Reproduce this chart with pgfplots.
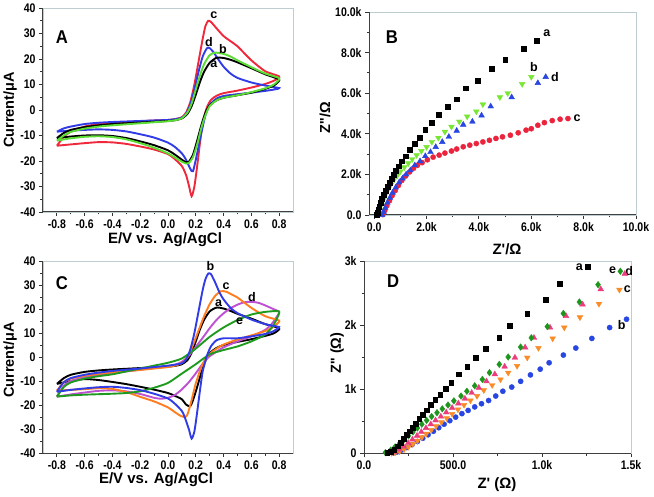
\documentclass[border=0pt]{standalone}
\usepackage{fontspec}
\setmainfont{Liberation Sans}
\newfontfamily\tfont{Liberation Sans}[FakeStretch=0.84]
\newfontfamily\pfont{Liberation Sans}[FakeStretch=0.9]
\usepackage{pgfplots}
\pgfplotsset{compat=1.18}

\definecolor{cvred}{RGB}{240,40,60}
\definecolor{cvblue}{RGB}{50,60,230}
\definecolor{cvgreen}{RGB}{90,220,50}
\definecolor{cvorange}{RGB}{255,125,30}
\definecolor{cvmag}{RGB}{190,80,210}
\definecolor{cvdgreen}{RGB}{30,155,30}
\definecolor{nqgreen}{RGB}{120,230,50}
\definecolor{nqred}{RGB}{235,35,60}
\definecolor{nqblue}{RGB}{40,70,225}
\definecolor{nqpink}{RGB}{235,60,125}
\definecolor{nqorange}{RGB}{250,140,40}
\definecolor{nqdgreen}{RGB}{30,150,30}
\definecolor{framegray}{RGB}{190,205,210}

\pgfplotsset{
  panel/.style={
    scale only axis, anchor=south west, clip=false, scaled ticks=false,
    axis line style={draw=framegray, line width=0.9pt},
    tick pos=left, tick align=outside,
    major tick length=4pt, minor tick length=2.5pt,
    tick style={black!80, line width=0.9pt},
    minor x tick num=1, minor y tick num=1,
    tick label style={font=\fontsize{12.5}{13}\selectfont\tfont\bfseries},
    xlabel style={font=\fontsize{15}{16}\selectfont\bfseries, anchor=center},
    ylabel style={font=\fontsize{14.5}{15}\selectfont\bfseries, anchor=center},
  },
  cv/.style={line width=1.9pt, smooth, tension=0.4, no markers},
  nq/.style={only marks, mark size=2.6pt},
}
\tikzset{
  lab/.style={font=\fontsize{12.5}{12}\selectfont\bfseries},
  plab/.style={font=\fontsize{18.5}{18}\selectfont\pfont\bfseries},
}
\newcommand\frameLB{\draw[black!75, line width=1pt] (rel axis cs:0,1) -- (rel axis cs:0,0) -- (rel axis cs:1,0);}

\begin{document}
\begin{tikzpicture}
\path[use as bounding box] (0pt,0pt) rectangle (654pt,496pt);

% ---------------- A ----------------
\begin{axis}[panel, at={(43pt,284pt)}, width=250pt, height=204pt,
  xmin=-0.9, xmax=0.9, ymin=-40, ymax=40,
  xtick={-0.8,-0.6,-0.4,-0.2,0,0.2,0.4,0.6,0.8},
  xticklabels={-0.8,-0.6,-0.4,-0.2,0.0,0.2,0.4,0.6,0.8},
  ytick={-40,-30,-20,-10,0,10,20,30,40},
  yticklabels={-40,-30,-20,-10,0,10,20,30,40},
  xlabel={E/V vs. Ag/AgCl}, ylabel={Current/μA},
  xlabel style={at={(axis description cs:0.488,-0.137)}},
  ylabel style={at={(axis description cs:-0.132,0.5)}},
]
\addplot[cv, cvred] coordinates {
(-0.8,-14) (-0.75,-10.5) (-0.7,-8.5) (-0.6,-6.5) (-0.5,-5.5) (-0.4,-5) (-0.3,-4.7) (-0.2,-4.4) (-0.1,-4.1) (0,-3.9) (0.05,-3.6) (0.1,-2.8) (0.13,-1) (0.16,3) (0.19,10) (0.22,19) (0.25,28) (0.27,33) (0.29,35) (0.31,34.5) (0.35,32) (0.4,29) (0.45,27) (0.5,25) (0.6,19.5) (0.7,15.2) (0.8,13.2)
(0.78,12) (0.75,11.2) (0.7,10.2) (0.6,8.8) (0.5,7.6) (0.4,6.6) (0.35,5.6) (0.31,4) (0.28,1) (0.25,-5) (0.23,-13) (0.21,-22) (0.19,-30) (0.17,-33.8) (0.15,-29.5) (0.13,-25.5) (0.1,-22) (0.05,-19.3) (0,-17.3) (-0.1,-15.5) (-0.2,-14.3) (-0.3,-13.3) (-0.4,-12.7) (-0.5,-12.6) (-0.6,-13) (-0.7,-13.5) (-0.8,-14)};
\addplot[cv, cvblue] coordinates {
(-0.8,-8.5) (-0.75,-7.2) (-0.7,-6.5) (-0.6,-5.5) (-0.5,-5) (-0.4,-4.7) (-0.3,-4.5) (-0.2,-4.3) (-0.1,-4.1) (0,-3.9) (0.05,-3.6) (0.1,-3) (0.13,-1.5) (0.16,2) (0.19,8) (0.22,15) (0.25,21) (0.28,24.2) (0.3,24.3) (0.33,22.5) (0.36,20) (0.4,17) (0.45,14.3) (0.5,12.6) (0.6,10.8) (0.7,9.6) (0.8,8.6)
(0.78,8.2) (0.75,7.9) (0.7,7.5) (0.6,6.8) (0.5,6.2) (0.4,5.5) (0.35,4.5) (0.3,2) (0.27,-2) (0.24,-9) (0.21,-17) (0.18,-24) (0.16,-23) (0.13,-19.5) (0.1,-17) (0.05,-14.5) (0,-12.8) (-0.1,-10.8) (-0.2,-9.5) (-0.3,-8.4) (-0.4,-7.8) (-0.5,-7.6) (-0.6,-7.8) (-0.7,-8.1) (-0.8,-8.5)};
\addplot[cv, black] coordinates {
(-0.8,-11) (-0.75,-9) (-0.7,-7.8) (-0.6,-6.7) (-0.5,-6) (-0.4,-5.5) (-0.3,-5.2) (-0.2,-4.9) (-0.1,-4.6) (0,-4.3) (0.05,-4) (0.1,-3.3) (0.14,-1.5) (0.17,1.5) (0.2,6) (0.23,11) (0.26,15) (0.3,18.5) (0.35,20.5) (0.4,20.4) (0.45,19.7) (0.5,18.7) (0.6,16.4) (0.7,14) (0.8,12)
(0.78,10.3) (0.75,9.3) (0.7,8.3) (0.6,6.8) (0.5,5.8) (0.4,4.8) (0.35,3.8) (0.3,1.8) (0.27,-1) (0.24,-6) (0.21,-12) (0.18,-17.5) (0.15,-20.3) (0.13,-20.5) (0.1,-19.5) (0.05,-17.5) (0,-15.8) (-0.1,-13.8) (-0.2,-12.3) (-0.3,-11) (-0.4,-10.2) (-0.5,-9.9) (-0.6,-10) (-0.7,-10.4) (-0.8,-11)};
\addplot[cv, cvgreen] coordinates {
(-0.8,-12) (-0.75,-10) (-0.7,-8.6) (-0.6,-7.3) (-0.5,-6.5) (-0.4,-6) (-0.3,-5.6) (-0.2,-5.2) (-0.1,-4.8) (0,-4.4) (0.05,-4) (0.1,-3.2) (0.14,-1) (0.17,2.5) (0.2,8) (0.23,13.5) (0.26,18) (0.3,21.5) (0.34,22.5) (0.4,22) (0.45,21) (0.5,19.5) (0.6,16.8) (0.7,14.3) (0.8,12.5)
(0.78,10.8) (0.75,9.6) (0.7,8.5) (0.6,7) (0.5,5.8) (0.4,4.8) (0.35,3.8) (0.3,1.5) (0.27,-2) (0.24,-7) (0.21,-13.5) (0.18,-18.5) (0.15,-20.8) (0.13,-21) (0.1,-20.3) (0.05,-18.6) (0,-17) (-0.1,-14.8) (-0.2,-13) (-0.3,-11.5) (-0.4,-10.6) (-0.5,-10.3) (-0.6,-10.5) (-0.7,-11.1) (-0.8,-12)};
\frameLB
\node[plab] at (rel axis cs:0.076,0.858) {A};
\node[lab] at (axis cs:0.33,37.2) {c};
\node[lab] at (axis cs:0.294,26.6) {d};
\node[lab] at (axis cs:0.396,23.9) {b};
\node[lab] at (axis cs:0.33,18) {a};
\end{axis}

% ---------------- B ----------------
\begin{axis}[panel, at={(369pt,281pt)}, width=267pt, height=203pt,
  xmin=-0.2, xmax=10, ymin=0, ymax=10,
  xtick={0,2,4,6,8,10}, xticklabels={0.0,2.0k,4.0k,6.0k,8.0k,10.0k},
  ytick={0,2,4,6,8,10}, yticklabels={0.0,2.0k,4.0k,6.0k,8.0k,10.0k},
  xlabel={Z\textquotesingle/Ω}, ylabel={Z\textquotesingle\textquotesingle/Ω},
  xlabel style={at={(axis description cs:0.517,-0.167)}},
  ylabel style={at={(axis description cs:-0.165,0.478)}},
]
\addplot[nq, mark=*, nqred] coordinates {
(7.4,4.75) (7.1,4.72) (6.8,4.65) (6.5,4.55) (6.25,4.42) (6.0,4.25) (5.8,4.18) (5.5,4.05) (5.2,3.93) (4.9,3.85) (4.65,3.77) (4.4,3.68) (4.15,3.6) (3.9,3.52) (3.65,3.44) (3.4,3.36) (3.15,3.25) (2.95,3.15) (2.7,3.05) (2.48,2.95) (2.25,2.85) (2.03,2.72) (1.83,2.58) (1.65,2.45) (1.5,2.3) (1.35,2.12) (1.2,1.92) (1.05,1.7) (0.92,1.45) (0.8,1.2) (0.68,0.95) (0.58,0.7) (0.48,0.45) (0.4,0.22) (0.33,0.02)};
\addplot[nq, mark=triangle*, mark size=3.3pt, nqblue] coordinates {
(6.55,6.8) (6.25,6.5) (5.25,5.8) (4.45,5.35) (4.1,4.9) (3.75,4.6) (3.4,4.45) (3.15,4.15) (2.85,3.85) (2.6,3.6) (2.35,3.35) (2.15,3.1) (1.95,2.9) (1.75,2.65) (1.55,2.45) (1.38,2.2) (1.22,2.0) (1.08,1.8) (0.95,1.6) (0.82,1.35) (0.7,1.1) (0.6,0.85) (0.5,0.6) (0.42,0.35) (0.35,0.15) (0.3,0.0)};
\addplot[nq, mark=triangle*, mark size=3.3pt, mark options={rotate=180}, nqgreen] coordinates {
(6.0,6.8) (5.65,6.45) (5.1,6.0) (4.8,5.8) (4.15,5.45) (3.9,5.1) (3.55,4.85) (3.25,4.6) (2.95,4.35) (2.7,4.1) (2.45,3.8) (2.2,3.6) (2.0,3.35) (1.8,3.15) (1.62,2.95) (1.45,2.75) (1.3,2.55) (1.15,2.35) (1.0,2.15) (0.88,1.95) (0.76,1.75) (0.64,1.5) (0.53,1.25) (0.43,1.0) (0.35,0.75) (0.27,0.5) (0.2,0.25) (0.15,0.05)};
\addplot[nq, mark=square*, mark size=2.4pt, black] coordinates {
(6.2,8.6) (5.7,8.2) (5.0,7.65) (4.5,7.2) (3.95,6.6) (3.5,6.25) (3.15,5.7) (2.8,5.35) (2.45,4.95) (2.2,4.55) (1.95,4.2) (1.75,3.8) (1.55,3.5) (1.35,3.2) (1.2,2.9) (1.05,2.65) (0.93,2.4) (0.83,2.2) (0.74,2.0) (0.66,1.8) (0.58,1.6) (0.5,1.4) (0.43,1.2) (0.36,1.0) (0.3,0.8) (0.24,0.6) (0.19,0.42) (0.15,0.25) (0.12,0.1) (0.1,0.0)};
\frameLB
\node[plab] at (rel axis cs:0.086,0.877) {B};
\node[lab] at (axis cs:6.59,8.95) {a};
\node[lab] at (axis cs:6.1,7.3) {b};
\node[lab] at (axis cs:6.9,6.81) {d};
\node[lab] at (axis cs:7.75,4.78) {c};
\end{axis}

% ---------------- C ----------------
\begin{axis}[panel, at={(43pt,43pt)}, width=250pt, height=192pt,
  xmin=-0.9, xmax=0.9, ymin=-40, ymax=40,
  xtick={-0.8,-0.6,-0.4,-0.2,0,0.2,0.4,0.6,0.8},
  xticklabels={-0.8,-0.6,-0.4,-0.2,0.0,0.2,0.4,0.6,0.8},
  ytick={-40,-30,-20,-10,0,10,20,30,40},
  yticklabels={-40,-30,-20,-10,0,10,20,30,40},
  xlabel={E/V vs. Ag/AgCl}, ylabel={Current/μA},
  xlabel style={at={(axis description cs:0.452,-0.141)}},
  ylabel style={at={(axis description cs:-0.132,0.484)}},
]
\addplot[cv, black] coordinates {
(-0.8,-11.2) (-0.75,-8.8) (-0.7,-7.4) (-0.6,-6.2) (-0.5,-5.6) (-0.4,-5.2) (-0.3,-4.9) (-0.2,-4.6) (-0.1,-4.3) (0,-4) (0.05,-3.7) (0.1,-3) (0.14,-1.3) (0.17,1.8) (0.2,6.5) (0.23,11.5) (0.26,15.5) (0.3,19) (0.35,20.6) (0.4,20.2) (0.45,19.2) (0.5,18) (0.6,16) (0.7,13.7) (0.8,12)
(0.78,10.5) (0.75,9.6) (0.7,8.8) (0.6,7.4) (0.5,6.3) (0.4,5) (0.35,3.8) (0.3,1.6) (0.27,-1.5) (0.24,-6.5) (0.21,-12.5) (0.18,-18) (0.16,-20.5) (0.13,-19.8) (0.1,-17.6) (0.05,-16.2) (0,-15) (-0.1,-13.6) (-0.2,-12.4) (-0.3,-11.3) (-0.4,-10.4) (-0.5,-9.6) (-0.6,-9.2) (-0.7,-10) (-0.8,-11.2)};
\addplot[cv, cvmag] coordinates {
(-0.8,-16.5) (-0.75,-12) (-0.7,-10) (-0.6,-8.4) (-0.5,-7.4) (-0.4,-6.7) (-0.3,-6) (-0.2,-5.3) (-0.1,-4.6) (0,-3.8) (0.05,-3.2) (0.1,-2) (0.15,0.5) (0.2,4.2) (0.25,8) (0.3,12) (0.35,15.5) (0.4,18.2) (0.45,20.3) (0.5,21.8) (0.55,22.8) (0.6,23) (0.65,22.6) (0.7,21.5) (0.75,20.2) (0.8,18.8)
(0.78,16.5) (0.75,14) (0.7,11.3) (0.6,8.6) (0.5,6.5) (0.4,4) (0.3,0.3) (0.25,-2.8) (0.2,-6.8) (0.15,-10.5) (0.1,-13.5) (0.05,-15.8) (0,-17) (-0.05,-17.4) (-0.1,-17) (-0.2,-15.4) (-0.3,-14.3) (-0.4,-13.9) (-0.5,-14.1) (-0.6,-14.8) (-0.7,-15.6) (-0.8,-16.5)};
\addplot[cv, cvorange] coordinates {
(-0.8,-14) (-0.75,-10.5) (-0.7,-9) (-0.6,-7.8) (-0.5,-7) (-0.4,-6.4) (-0.3,-5.9) (-0.2,-5.4) (-0.1,-4.8) (0,-4.2) (0.05,-3.6) (0.1,-2.5) (0.14,0) (0.18,5) (0.22,11) (0.26,17) (0.3,22) (0.34,25.5) (0.38,27.4) (0.42,27.2) (0.46,26) (0.5,24.8) (0.6,20.5) (0.7,17) (0.8,15.2)
(0.78,13.6) (0.75,12.2) (0.7,10.8) (0.6,9) (0.5,7.3) (0.4,5.2) (0.35,3.5) (0.3,1.2) (0.25,-2.8) (0.2,-11) (0.17,-18) (0.14,-24) (0.12,-25) (0.09,-24.5) (0.05,-23) (0,-21) (-0.1,-18.5) (-0.2,-16.6) (-0.3,-14.6) (-0.4,-13.3) (-0.5,-13) (-0.6,-13.4) (-0.7,-13.7) (-0.8,-14)};
\addplot[cv, cvdgreen] coordinates {
(-0.8,-16.5) (-0.75,-12.5) (-0.7,-10.6) (-0.6,-9) (-0.5,-8) (-0.4,-7.2) (-0.3,-6) (-0.2,-4.8) (-0.1,-3.6) (0,-2.4) (0.1,-0.6) (0.2,3.5) (0.3,8.4) (0.4,12.3) (0.5,15.4) (0.6,17.7) (0.7,18.8) (0.8,19)
(0.78,15.5) (0.75,12.5) (0.7,9.3) (0.6,6.5) (0.5,4.4) (0.4,2.9) (0.3,1.1) (0.2,-3) (0.1,-6.9) (0,-10.8) (-0.1,-12.8) (-0.2,-14.3) (-0.3,-15) (-0.4,-15.3) (-0.5,-15.5) (-0.6,-15.7) (-0.7,-16) (-0.8,-16.5)};
\addplot[cv, cvblue] coordinates {
(-0.8,-14.5) (-0.75,-10.5) (-0.7,-8.8) (-0.6,-7.4) (-0.5,-6.5) (-0.4,-5.8) (-0.3,-5.3) (-0.2,-4.8) (-0.1,-4.2) (0,-3.6) (0.05,-3.2) (0.1,-2.6) (0.13,-1) (0.16,3) (0.19,10) (0.22,19) (0.25,28) (0.27,32.5) (0.29,34.8) (0.31,34.5) (0.34,31) (0.37,27) (0.4,24) (0.45,20.5) (0.5,18.3) (0.6,15.6) (0.7,13.7) (0.8,12.5)
(0.78,11.5) (0.75,10.5) (0.7,9.6) (0.6,8.6) (0.5,7.8) (0.4,7.8) (0.35,7) (0.31,4.5) (0.28,0.5) (0.25,-6) (0.23,-14) (0.21,-23) (0.19,-31) (0.17,-34) (0.15,-30) (0.12,-25) (0.1,-22.5) (0.05,-19.5) (0,-17.3) (-0.1,-15.3) (-0.2,-13.8) (-0.3,-12.9) (-0.4,-12.4) (-0.5,-12.6) (-0.6,-13.1) (-0.7,-13.7) (-0.8,-14.5)};
\frameLB
\node[plab] at (rel axis cs:0.076,0.885) {C};
\node[lab] at (axis cs:0.306,38) {b};
\node[lab] at (axis cs:0.418,29.7) {c};
\node[lab] at (axis cs:0.365,22.6) {a};
\node[lab] at (axis cs:0.604,25.1) {d};
\node[lab] at (axis cs:0.515,15.1) {e};
\end{axis}

% ---------------- D ----------------
\begin{axis}[panel, at={(364pt,43pt)}, width=267pt, height=192pt,
  xmin=0, xmax=1500, ymin=0, ymax=3000,
  xtick={0,500,1000,1500}, xticklabels={0.0,500.0,1.0k,1.5k},
  ytick={0,1000,2000,3000}, yticklabels={0,1k,2k,3k},
  xlabel={Z\textquotesingle\ (Ω)}, ylabel={Z\textquotesingle\textquotesingle\ (Ω)},
  xlabel style={at={(axis description cs:0.498,-0.167)}},
  ylabel style={at={(axis description cs:-0.101,0.52)}},
]
\addplot[nq, mark=*, nqblue] coordinates {
(1475,2090) (1380,1960) (1280,1790) (1190,1640) (1120,1530) (1040,1410) (990,1310) (935,1220) (880,1120) (830,1030) (780,965) (740,890) (700,820) (660,770) (622,720) (585,665) (550,615) (515,560) (482,505) (450,450) (420,395) (390,340) (360,285) (330,230) (300,180) (270,130) (240,85) (210,45) (185,15) (165,2)};
\addplot[nq, mark=triangle*, mark size=3.3pt, mark options={rotate=180}, nqorange] coordinates {
(1435,2550) (1320,2330) (1213,2120) (1125,1960) (1060,1790) (980,1640) (917,1490) (860,1360) (810,1255) (767,1150) (720,1060) (673,980) (635,890) (598,820) (562,750) (528,680) (495,610) (465,545) (435,480) (405,420) (378,360) (350,300) (325,245) (300,190) (275,140) (250,95) (225,55) (200,25) (175,5) (155,0)};
\addplot[nq, mark=triangle*, mark size=3.3pt, nqpink] coordinates {
(1465,2800) (1330,2560) (1228,2320) (1135,2140) (1045,1960) (955,1800) (905,1650) (848,1490) (790,1350) (735,1230) (688,1120) (645,1020) (605,940) (567,850) (530,775) (495,705) (462,635) (432,570) (402,510) (375,450) (348,390) (322,330) (298,270) (272,210) (248,155) (222,100) (195,55) (170,20) (148,3)};
\addplot[nq, mark=diamond*, mark size=3.3pt, nqdgreen] coordinates {
(1440,2840) (1315,2630) (1210,2360) (1120,2180) (1030,1975) (940,1800) (880,1655) (810,1500) (760,1385) (705,1255) (665,1150) (622,1050) (578,965) (545,890) (505,815) (472,750) (440,690) (410,630) (380,570) (352,510) (325,450) (300,390) (275,330) (250,270) (225,210) (200,150) (175,95) (150,45) (120,5)};
\addplot[nq, mark=square*, mark size=2.4pt, black] coordinates {
(1255,2910) (1100,2640) (1020,2390) (917,2180) (820,1990) (760,1800) (685,1635) (627,1490) (580,1350) (532,1230) (490,1100) (458,1010) (428,915) (400,830) (375,750) (352,670) (330,600) (310,530) (290,460) (272,400) (255,340) (238,280) (222,220) (205,160) (188,105) (170,55) (150,20) (130,5)};
\frameLB
\node[plab] at (rel axis cs:0.109,0.896) {D};
\node[lab] at (axis cs:1210,2910) {a};
\node[lab] at (axis cs:1397,2850) {e};
\node[lab] at (axis cs:1490,2850) {d};
\node[lab] at (axis cs:1480,2560) {c};
\node[lab] at (axis cs:1448,2000) {b};
\end{axis}
\end{tikzpicture}
\end{document}
